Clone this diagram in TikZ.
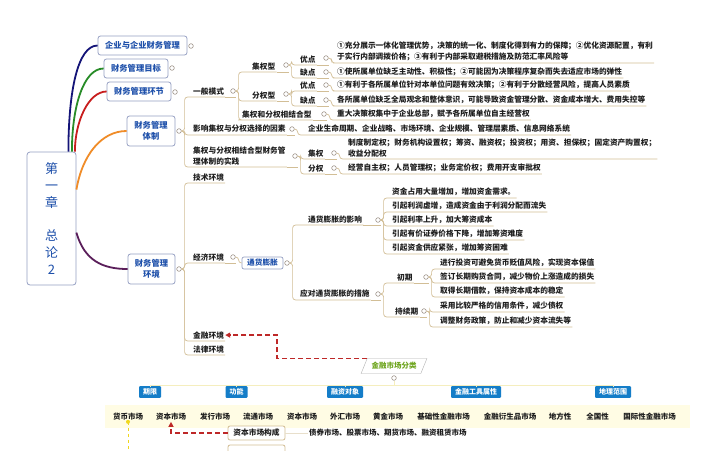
\documentclass[tikz,border=0pt]{standalone}
\usepackage{fontspec}
\setmainfont{Noto Sans CJK SC}
\usetikzlibrary{shapes.geometric,arrows.meta,calc}
\definecolor{boxb}{RGB}{150,160,195}
\definecolor{mtext}{RGB}{30,80,170}
\definecolor{cblue}{RGB}{20,20,120}
\definecolor{cgreen}{RGB}{40,140,40}
\definecolor{cred}{RGB}{200,30,30}
\definecolor{corange}{RGB}{240,140,40}
\definecolor{cpurple}{RGB}{90,30,90}
\definecolor{brc}{RGB}{210,190,150}
\definecolor{circc}{RGB}{160,150,140}
\definecolor{dred}{RGB}{190,40,40}
\definecolor{catb}{RGB}{20,125,200}
\definecolor{bandy}{RGB}{255,252,228}
\definecolor{pgreen}{RGB}{110,165,30}
\definecolor{ink}{RGB}{30,30,30}
\definecolor{yel}{RGB}{240,215,30}
\definecolor{faint}{RGB}{245,238,190}
\newcommand\mmconn[2]{\draw[br] (#1.east) -- ++(3,0) |- (#2.south west) -- (#2.south east);}
\newcommand\mmul[2]{\draw[br] (#1.south east) -- (#1.south east -| #2.east);}
\begin{document}
\begin{tikzpicture}[x=1pt,y=-1pt,
  mbox/.style={draw=boxb, fill=white, rounded corners=2.5pt, line width=0.8pt, text=mtext,
    font=\fontsize{8.3}{11}\selectfont\bfseries, align=center, inner sep=0pt},
  tp/.style={anchor=south west, inner xsep=1pt, inner ysep=2pt, text=ink,
    font=\fontsize{7.7}{10.5}\selectfont\bfseries, align=left},
  cir/.style={circle, draw=circc, fill=white, line width=0.6pt, minimum size=4.6pt, inner sep=0pt},
  br/.style={draw=brc, line width=0.7pt, rounded corners=3pt},
  da/.style={draw=dred, line width=1.3pt, dash pattern=on 5pt off 3pt, -{Triangle[length=5pt,width=5pt]}},
  cat/.style={fill=catb, text=white, font=\fontsize{7}{8}\selectfont\bfseries, inner xsep=4pt, inner ysep=2.5pt, rounded corners=1pt},
  item/.style={font=\fontsize{7.5}{9}\selectfont\bfseries, text=ink, inner sep=1pt},
  ibox/.style={draw=boxb, fill=white, rounded corners=2pt, line width=0.7pt, text=mtext,
    font=\fontsize{7.7}{9}\selectfont\bfseries, minimum width=41pt, minimum height=12pt, inner sep=0pt},
  kbox/.style={draw=brc, fill=white, rounded corners=2pt, line width=0.8pt, text=ink,
    font=\fontsize{7.7}{9}\selectfont\bfseries, minimum width=57pt, minimum height=14pt, inner sep=0pt},
  para/.style={trapezium, trapezium left angle=60, trapezium right angle=120, trapezium stretches=true,
    draw=gray!60, fill=white, text=pgreen, font=\fontsize{7.5}{9}\selectfont\bfseries,
    minimum width=66pt, minimum height=15pt, inner sep=1pt},
  curve/.style={line width=1.8pt}
]
\clip (0,0) rectangle (708,450);
\fill[white] (0,0) rectangle (708,450);
\useasboundingbox (0,0) rectangle (708,450);

% faint band of the market row
\fill[bandy] (105,405) rectangle (690,428);

% central node
\node[draw=boxb, fill=white, rounded corners=3pt, line width=0.8pt, minimum width=49pt, minimum height=133pt,
  inner sep=0pt, text=mtext, font=\fontsize{13}{16.7}\selectfont, align=center] (C) at (51.5,218.5)
  {第\\一\\章\\[16.7pt]总\\论\\2};

% main boxes
\node[mbox, minimum width=89pt, minimum height=19pt] (M1) at (142.5,45.5) {企业与企业财务管理};
\node[mbox, minimum width=64pt, minimum height=19pt] (M2) at (136,68.5) {财务管理目标};
\node[mbox, minimum width=64pt, minimum height=19pt] (M3) at (139,91.5) {财务管理环节};
\node[mbox, minimum width=48pt, minimum height=30pt] (M4) at (151,131) {财务管理\\体制};
\node[mbox, minimum width=47pt, minimum height=30pt] (M5) at (151.5,269) {财务管理\\环境};
\node[cir] (cM1) at (191,46) {};
\node[cir] (cM2) at (172,68) {};
\node[cir] (cM3) at (175,92) {};
\node[cir] (cM4) at (179,131) {};
\node[cir] (cM5) at (179,269) {};

% curves from the centre
\draw[curve, cblue] ([xshift=-8pt]C.north east) .. controls +(0,-60) and +(-20,0) .. (M1.west);
\draw[curve, cgreen] ([xshift=-4.5pt]C.north east) .. controls +(0,-45) and +(-20,0) .. (M2.west);
\draw[curve, cred] ([xshift=-1.5pt]C.north east) .. controls +(0,-30) and +(-18,0) .. (M3.west);
\draw[curve, corange] ([yshift=-38pt]C.north east) .. controls +(6,-35) and +(-25,0) .. (M4.west);
\draw[curve, cpurple] ([yshift=-81pt]C.north east) .. controls +(8,28) and +(-25,0) .. (M5.west);

% ---------- 财务管理体制 ----------
\node[tp] (T1) at (192,97) {一般模式};
\node[cir] (cT1) at (233,91) {};
\node[tp] (A) at (251,72) {集权型};
\node[cir] (cA) at (286,65) {};
\node[tp] (A1) at (299,65) {优点};
\node[cir] (cA1) at (326,58) {};
\node[tp] (A1t) at (336,63) {①充分展示一体化管理优势，决策的统一化、制度化得到有力的保障；②优化资源配置，有利\\于实行内部调拨价格；③有利于内部采取避税措施及防范汇率风险等};
\node[tp] (A2) at (299,78) {缺点};
\node[cir] (cA2) at (326,72) {};
\node[tp] (A2t) at (336,78) {①使所属单位缺乏主动性、积极性；②可能因为决策程序复杂而失去适应市场的弹性};
\node[tp] (B) at (251,101) {分权型};
\node[cir] (cB) at (286,94) {};
\node[tp] (B1) at (299,91) {优点};
\node[cir] (cB1) at (326,85) {};
\node[tp] (B1t) at (336,91) {①有利于各所属单位针对本单位问题有效决策；②有利于分散经营风险，提高人员素质};
\node[tp] (B2) at (299,106) {缺点};
\node[cir] (cB2) at (326,100) {};
\node[tp] (B2t) at (336,106) {各所属单位缺乏全局观念和整体意识，可能导致资金管理分散、资金成本增大、费用失控等};
\node[tp] (Cc) at (241,120) {集权和分权相结合型};
\node[cir] (cCc) at (324,114) {};
\node[tp] (Cct) at (336,120) {重大决策权集中于企业总部，赋予各所属单位自主经营权};
\node[tp] (T2) at (192,135) {影响集权与分权选择的因素};
\node[cir] (cT2) at (292,129) {};
\node[tp] (T2t) at (307,135) {企业生命周期、企业战略、市场环境、企业规模、管理层素质、信息网络系统};
\node[tp] (T3) at (192,167) {集权与分权相结合型财务管\\理体制的实践};
\node[cir] (cT3) at (295,156) {};
\node[tp] (D1) at (307,159) {集权};
\node[cir] (cD1) at (334,153) {};
\node[tp] (D1t) at (347,159) {制度制定权；财务机构设置权；筹资、融资权；投资权；用资、担保权；固定资产购置权；\\收益分配权};
\node[tp] (D2) at (307,174) {分权};
\node[cir] (cD2) at (334,168) {};
\node[tp] (D2t) at (347,174) {经营自主权；人员管理权；业务定价权；费用开支审批权};

\mmconn{cM4}{T1} \mmconn{cM4}{T2} \mmconn{cM4}{T3}
\mmconn{cT1}{A} \mmconn{cT1}{B} \mmconn{cT1}{Cc}
\mmconn{cA}{A1} \mmconn{cA}{A2} \mmconn{cA1}{A1t} \mmconn{cA2}{A2t}
\mmconn{cB}{B1} \mmconn{cB}{B2} \mmconn{cB1}{B1t} \mmconn{cB2}{B2t}
\mmconn{cCc}{Cct} \mmconn{cT2}{T2t}
\mmconn{cT3}{D1} \mmconn{cT3}{D2} \mmconn{cD1}{D1t} \mmconn{cD2}{D2t}
\mmul{T1}{cT1} \mmul{A}{cA} \mmul{A1}{cA1} \mmul{A2}{cA2} \mmul{B}{cB} \mmul{B1}{cB1} \mmul{B2}{cB2}
\mmul{Cc}{cCc} \mmul{T2}{cT2} \mmul{T3}{cT3} \mmul{D1}{cD1} \mmul{D2}{cD2}

% ---------- 财务管理环境 ----------
\node[tp] (E1) at (192,183) {技术环境};
\node[tp] (E2) at (192,263) {经济环境};
\node[cir] (cE2) at (233,257) {};
\node[ibox] (F) at (262.5,263) {通货膨胀};
\node[cir] (cF) at (287,263) {};
\node[tp] (F1) at (307,225) {通货膨胀的影响};
\node[cir] (cF1) at (378,220) {};
\node[tp] (G1) at (391,198) {资金占用大量增加，增加资金需求。};
\node[tp] (G2) at (391,212) {引起利润虚增，造成资金由于利润分配而流失};
\node[tp] (G3) at (391,226) {引起利率上升，加大筹资成本};
\node[tp] (G4) at (391,240) {引起有价证券价格下降，增加筹资难度};
\node[tp] (G5) at (391,254) {引起资金供应紧张，增加筹资困难};
\node[tp] (F2) at (299,300) {应对通货膨胀的措施};
\node[cir] (cF2) at (378,294) {};
\node[tp] (H1) at (396,283) {初期};
\node[cir] (cH1) at (426,277) {};
\node[tp] (H11) at (439,269) {进行投资可避免货币贬值风险，实现资本保值};
\node[tp] (H12) at (439,283) {签订长期购货合同，减少物价上涨造成的损失};
\node[tp] (H13) at (439,297) {取得长期借款，保持资本成本的稳定};
\node[tp] (H2) at (394,317) {持续期};
\node[cir] (cH2) at (424,311) {};
\node[tp] (H21) at (439,312) {采用比较严格的信用条件，减少债权};
\node[tp] (H22) at (439,327) {调整财务政策，防止和减少资本流失等};
\node[tp] (E3) at (192,341) {金融环境};
\node[tp] (E4) at (192,355) {法律环境};

\mmconn{cM5}{E1} \mmconn{cM5}{E2} \mmconn{cM5}{E3} \mmconn{cM5}{E4}
\draw[br] (cE2.east) -- ++(3,0) |- (F.west);
\mmconn{cF}{F1} \mmconn{cF}{F2}
\mmconn{cF1}{G1} \mmconn{cF1}{G2} \mmconn{cF1}{G3} \mmconn{cF1}{G4} \mmconn{cF1}{G5}
\mmconn{cF2}{H1} \mmconn{cF2}{H2}
\mmconn{cH1}{H11} \mmconn{cH1}{H12} \mmconn{cH1}{H13}
\mmconn{cH2}{H21} \mmconn{cH2}{H22}
\mmul{E2}{cE2} \mmul{F1}{cF1} \mmul{F2}{cF2} \mmul{H1}{cH1} \mmul{H2}{cH2}

% ---------- 金融市场分类 ----------
\node[para] (P) at (394,366) {金融市场分类};
\node[cir] (cP) at (394,378) {};
\draw[da] (P.top left corner) -- ++(-90,0) |- (E3.east);

\node[cat] (K1) at (150,392) {期限};
\node[cat] (K2) at (236.5,392) {功能};
\node[cat] (K3) at (345,392) {融资对象};
\node[cat] (K4) at (476,392) {金融工具属性};
\node[cat] (K5) at (613,392) {地理范围};
\draw[faint, line width=1pt] (cP.south) -- ++(0,5) coordinate (pj);
\draw[faint, line width=1pt] (K1.north) |- (pj) -| (K5.north);
\draw[faint, line width=1pt] (K2.north) -- (K2.north |- pj);
\draw[faint, line width=1pt] (K3.north) -- (K3.north |- pj);
\draw[faint, line width=1pt] (K4.north) -- (K4.north |- pj);

\node[item] (I1) at (128,417) {货币市场};
\node[item] (I2) at (171,417) {资本市场};
\node[item] (I3) at (215,417) {发行市场};
\node[item] (I4) at (258,417) {流通市场};
\node[item] (I5) at (302,417) {资本市场};
\node[item] (I6) at (345,417) {外汇市场};
\node[item] (I7) at (388,417) {黄金市场};
\node[item] (I8) at (443.5,417) {基础性金融市场};
\node[item] (I9) at (510,417) {金融衍生品市场};
\node[item] (I10) at (560,417) {地方性};
\node[item] (I11) at (597.5,417) {全国性};
\node[item] (I12) at (649.5,417) {国际性金融市场};

\node[kbox] (KB) at (256.5,433) {资本市场构成};
\node[item, anchor=west] (KBt) at (308,433) {债券市场、股票市场、期货市场、融资租赁市场};
\draw[draw=brc!50, line width=0.6pt] (KB.east) -- (KBt.west);
\draw[da] (KB.west) -| (I2.south);
\node[kbox] (KB2) at (256.5,452) {};

\draw[yel, line width=1pt, dashed] (I1.south) -- ++(0,30);
\fill[yel] (I1.south) circle (2pt);
\end{tikzpicture}
\end{document}
